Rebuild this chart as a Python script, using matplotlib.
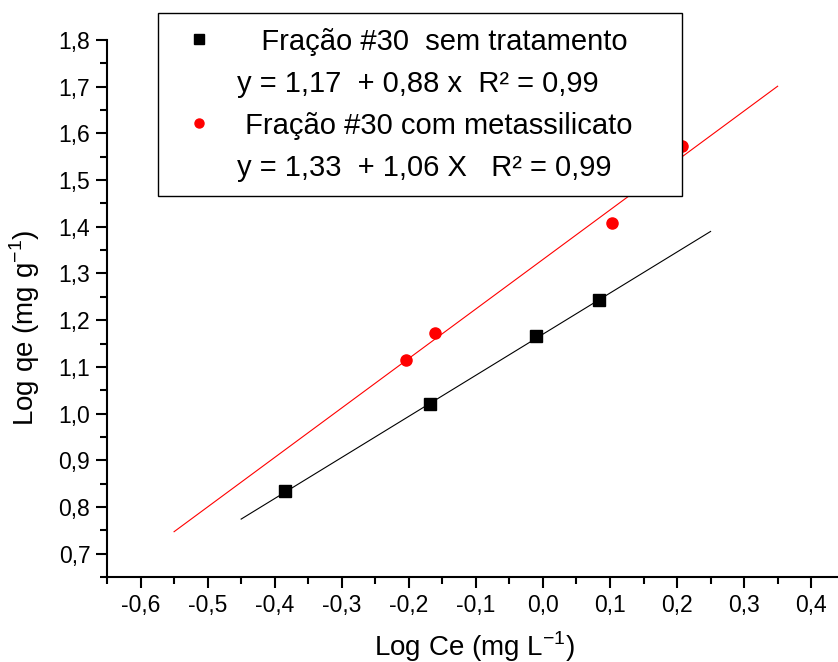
"""
Freundlich isotherm, fraction #30 with and without metassilicate.
Log qe vs Log Ce with fitted straight lines.
"""
import numpy as np
import matplotlib.pyplot as plt
from matplotlib.lines import Line2D
from matplotlib.ticker import MultipleLocator, FuncFormatter

plt.rcParams["font.family"] = ["Liberation Sans", "DejaVu Sans"]
plt.rcParams["mathtext.fontset"] = "custom"
plt.rcParams["mathtext.rm"] = "Liberation Sans"

# sem tratamento
x_sem = [-0.385, -0.169, -0.010, 0.084]
y_sem = [0.835, 1.021, 1.167, 1.244]
fit_sem = (1.17, 0.88)          # intercept, slope
range_sem = (-0.45, 0.25)

# com metassilicato
x_com = [-0.204, -0.161, 0.103, 0.207]
y_com = [1.115, 1.173, 1.409, 1.574]
fit_com = (1.33, 1.06)
range_com = (-0.55, 0.35)

labels = ["   Fração #30  sem tratamento",
          "y = 1,17  + 0,88 x  R² = 0,99",
          " Fração #30 com metassilicato",
          "y = 1,33  + 1,06 X   R² = 0,99"]

fig = plt.figure(figsize=(8.38, 6.62), dpi=100)
ax = fig.add_axes([0.1277, 0.1284, 0.8723, 0.8112])

xs = np.array(range_sem)
ax.plot(xs, fit_sem[0] + fit_sem[1] * xs, color="black", lw=0.8)
ax.plot(x_sem, y_sem, "s", color="black", ms=8.5, ls="none")

xc = np.array(range_com)
ax.plot(xc, fit_com[0] + fit_com[1] * xc, color="red", lw=0.8)
ax.plot(x_com, y_com, "o", color="red", ms=8, ls="none")

ax.set_xlim(-0.65, 0.44)
ax.set_ylim(0.65, 1.8)
ax.xaxis.set_major_locator(MultipleLocator(0.1))
ax.xaxis.set_minor_locator(MultipleLocator(0.05))
ax.yaxis.set_major_locator(MultipleLocator(0.1))
ax.yaxis.set_minor_locator(MultipleLocator(0.05))

def comma(v, pos):
    s = "%.1f" % v
    if s == "-0.0":
        s = "0.0"
    return s.replace(".", ",")

ax.xaxis.set_major_formatter(FuncFormatter(comma))
ax.yaxis.set_major_formatter(FuncFormatter(
    lambda v, p: comma(v, p) if v > 0.68 else ""))

for side in ["top", "right"]:
    ax.spines[side].set_visible(False)
for side in ["left", "bottom"]:
    ax.spines[side].set_linewidth(1.5)
ax.tick_params(which="major", direction="out", length=8, width=1.5,
               labelsize=16.5, pad=4)
ax.tick_params(which="minor", direction="out", length=5, width=1.5)

ax.set_xlabel(r"Log Ce (mg L$^{\mathregular{-1}}$)", fontsize=20)
ax.set_ylabel(r"Log qe (mg g$^{\mathregular{-1}}$)", fontsize=20)
ax.xaxis.set_label_coords(0.503, -0.097)
ax.yaxis.set_label_coords(-0.089, 0.464)

handles = [Line2D([], [], marker="s", color="black", ls="none", ms=6.5),
           Line2D([], [], ls="none"),
           Line2D([], [], marker="o", color="red", ls="none", ms=6.5),
           Line2D([], [], ls="none")]
leg = ax.legend(handles, labels, loc="upper left",
                bbox_to_anchor=(158 / 838, 1 - 193 / 662, 524 / 838, 180 / 662),
                bbox_transform=fig.transFigure, mode="expand", fontsize=21,
                frameon=True, fancybox=False, framealpha=1, borderaxespad=0,
                handlelength=1.8, handletextpad=0.4, labelspacing=0.48,
                borderpad=0.5)
leg.get_frame().set_edgecolor("black")
leg.get_frame().set_linewidth(1.0)
leg.set_zorder(10)

plt.savefig("out.png", dpi=100)
